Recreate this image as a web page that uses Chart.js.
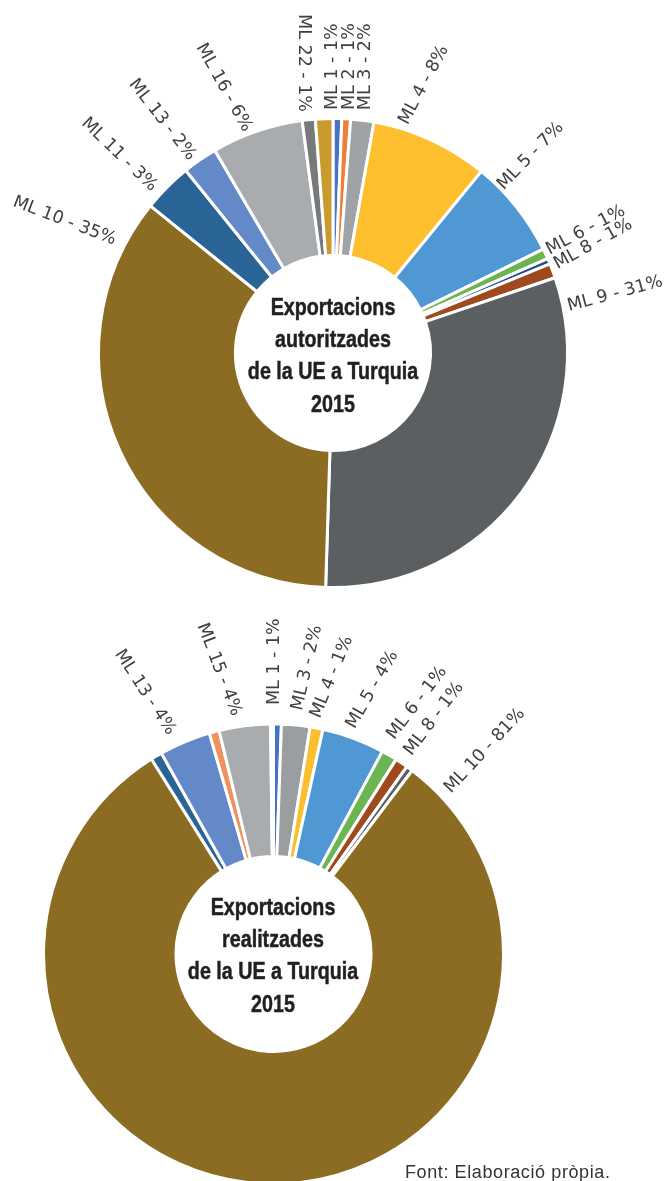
<!DOCTYPE html>
<html lang="ca">
<head>
<meta charset="utf-8">
<title>Exportacions de la UE a Turquia 2015</title>
<script src="https://cdn.jsdelivr.net/npm/chart.js@4/dist/chart.umd.min.js"></script>
<style>
  html, body { margin: 0; padding: 0; background: #fff; }
  body { position: relative; width: 665px; height: 1181px; overflow: hidden; }
  canvas { position: absolute; left: 0; }
  #chartAuth { top: 0; }
  #chartReal { top: 600px; }
  .centre {
    position: absolute; width: 240px; text-align: center;
    font-family: "Liberation Sans", Arial, sans-serif;
    font-weight: bold; font-size: 24px; line-height: 32.2px; color: #231f20;
    -webkit-text-stroke: 0.5px #231f20;
    transform: scaleX(0.82); transform-origin: 50% 0;
  }
  #centreAuth { left: 213px; top: 291px; }
  #centreReal { left: 153px; top: 891px; }
  #source {
    position: absolute; left: 405px; top: 1159px;
    font-family: "Liberation Sans", Arial, sans-serif; font-size: 18px;
    letter-spacing: 0.6px; color: #333; line-height: 26px; white-space: nowrap;
  }
</style>
</head>
<body>
<canvas id="chartAuth" width="665" height="600"></canvas>
<canvas id="chartReal" width="665" height="581"></canvas>
<div class="centre" id="centreAuth">Exportacions<br>autoritzades<br>de la UE a Turquia<br>2015</div>
<div class="centre" id="centreReal">Exportacions<br>realitzades<br>de la UE a Turquia<br>2015</div>
<div id="source">Font: Elaboració pròpia.</div>
<script>
// Authorised exports (share of total, %)
const authCategories = ['ML 1', 'ML 2', 'ML 3', 'ML 4', 'ML 5', 'ML 6', 'ML 7', 'ML 8', 'ML 9', 'ML 10', 'ML 11', 'ML 13', 'ML 16', 'ML 21', 'ML 22'];
const authValues     = [0.6, 0.6, 1.6, 8.1, 6.8, 0.7, 0.4, 1.0, 30.7, 35.3, 3.4, 2.4, 6.3, 0.9, 1.2];
const authColors     = ['#4674c2', '#ef7f36', '#a0a3a6', '#fdbf2d', '#4f98d4', '#6db450', '#1f4f8c', '#9e4a1e', '#5b5f61', '#8c6c22', '#2a6395', '#6389c8', '#a9acae', '#77797b', '#c99a2e'];

// Realised exports (share of total, %)
const realCategories = ['ML 1', 'ML 3', 'ML 4', 'ML 5', 'ML 6', 'ML 8', 'ML 9', 'ML 10', 'ML 11', 'ML 13', 'ML 14', 'ML 15', 'ML 17'];
const realValues     = [0.55, 2.0, 0.9, 4.4, 1.1, 0.9, 0.45, 80.8, 0.8, 3.6, 0.7, 3.6, 0.2];
const realColors     = ['#4472c4', '#9a9ea1', '#fbbf2e', '#4f98d4', '#6bb552', '#9e4a1e', '#5b5f61', '#8c6c22', '#2a6395', '#6389c8', '#f0925e', '#a9acae', '#e4eedc'];

// Label placement: [angle shift from slice middle (deg), gap beyond outer edge (px), text rotation (deg)]
const authLabelPlacement = {
  'ML 22': [-4.8, 8.3, 90],
  'ML 1':  [-1.2, 8.5, -90],
  'ML 2':  [0.7, 9.1, -90],
  'ML 3':  [0.5, 10.5, -90],
  'ML 4':  [-7.6, 5.8, -62],
  'ML 5':  [-6.2, 1.1, -46],
  'ML 6':  [-0.5, 3.1, -28],
  'ML 8':  [-1.0, 4.4, -29],
  'ML 9':  [-47.7, 4.8, -15],
  'ML 10': [52.0, 10.5, 21],
  'ML 11': [-2.4, 8.3, 44],
  'ML 13': [-1.3, 5.7, 52],
  'ML 16': [-2.1, 4.0, 61]
};
const realLabelPlacement = {
  'ML 13': [-2.1, 13.1, 57],
  'ML 15': [-1.6, 11.6, 69],
  'ML 1':  [-0.7, 19.0, -90],
  'ML 3':  [0.0, 15.0, -77],
  'ML 4':  [-0.7, 10.4, -68],
  'ML 5':  [-1.55, 9.5, -60],
  'ML 6':  [-1.8, 16.2, -52.6],
  'ML 8':  [0.0, 11.4, -53],
  'ML 10': [-135.7, 8.7, -47]
};

// Draws "name - pct%" outside each listed slice, rotated along the ring
const ringLabels = {
  id: 'ringLabels',
  afterDatasetsDraw(chart, args, opts) {
    const ctx = chart.ctx;
    const meta = chart.getDatasetMeta(0);
    const values = chart.data.datasets[0].data;
    const total = values.reduce((s, v) => s + v, 0);
    ctx.save();
    ctx.font = opts.font;
    ctx.fillStyle = opts.color;
    ctx.textBaseline = 'middle';
    meta.data.forEach((arc, i) => {
      const name = chart.data.labels[i];
      const place = opts.placement[name];
      if (!place) return;
      const [shift, gap, rot] = place;
      const p = arc.getProps(['x', 'y', 'startAngle', 'endAngle', 'outerRadius'], true);
      const a = (p.startAngle + p.endAngle) / 2 + shift * Math.PI / 180;
      const r = p.outerRadius + gap;
      const text = name + ' - ' + Math.round(values[i] / total * 100) + '%';
      ctx.save();
      ctx.translate(p.x + Math.cos(a) * r, p.y + Math.sin(a) * r);
      ctx.rotate(rot * Math.PI / 180);
      ctx.textAlign = rot > 0 ? 'right' : 'left';
      ctx.fillText(text, 0, 0);
      ctx.restore();
    });
    ctx.restore();
  }
};

function ring(canvasId, categories, values, colors, placement, radius, cutout, padding) {
  return new Chart(document.getElementById(canvasId), {
    type: 'doughnut',
    data: {
      labels: categories,
      datasets: [{
        data: values,
        backgroundColor: colors,
        borderColor: '#ffffff',
        borderWidth: 3,
        borderJoinStyle: 'bevel'
      }]
    },
    options: {
      responsive: false,
      animation: false,
      events: [],
      radius: radius,
      cutout: cutout,
      layout: { padding: padding },
      plugins: {
        legend: { display: false },
        tooltip: { enabled: false },
        ringLabels: { font: '17.5px "DejaVu Sans", Verdana, sans-serif', color: '#404040', placement: placement }
      }
    },
    plugins: [ringLabels]
  });
}

ring('chartAuth', authCategories, authValues, authColors, authLabelPlacement, 234.5, '41.6%',
     { left: 1, right: 0, top: 106, bottom: 0 });
ring('chartReal', realCategories, realValues, realColors, realLabelPlacement, 230, '42.4%',
     { left: 0, right: 118, top: 127, bottom: 0 });
</script>
</body>
</html>
